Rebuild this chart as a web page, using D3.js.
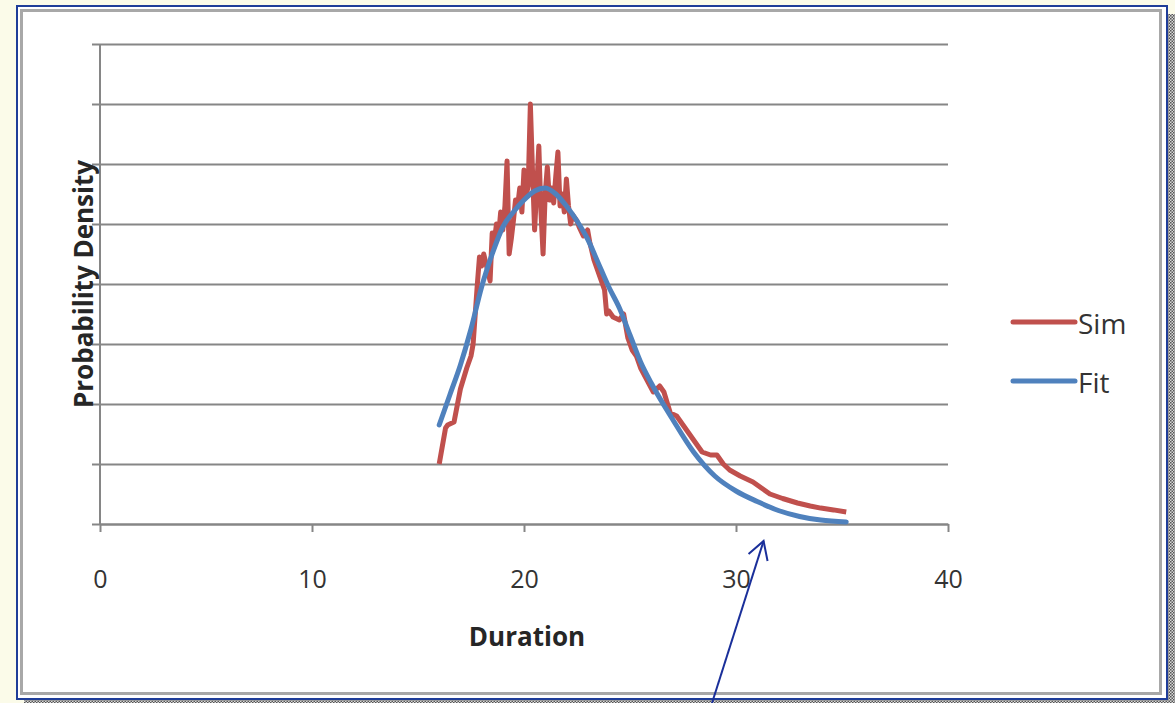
<!DOCTYPE html>
<html lang="en">
<head>
<meta charset="utf-8"/>
<style>
  body { margin: 0; background-color: #FBFBE9; }
  svg { display: block; }
  .tick text { font-family: "Open Sans", sans-serif; font-size: 25px; fill: #333; }
  .axis-title { font-family: "Open Sans", sans-serif; font-size: 26px; font-weight: bold; fill: #262626; }
  .legend text { font-family: "Open Sans", sans-serif; font-size: 28px; fill: #333; }
</style>
</head>
<body>
<svg id="container" width="1175" height="703"></svg>

<script src="https://d3js.org/d3.v7.min.js"></script>
<script>
  // simulated histogram (duration -> density)
  let simDuration = [16.0,16.3,16.4,16.7,17.0,17.3,17.5,17.6,17.7,17.8,17.9,18.0,18.1,18.3,18.4,18.5,18.6,18.7,18.8,18.9,
    19.0,19.1,19.2,19.3,19.4,19.5,19.6,19.7,19.8,19.9,20.0,20.1,20.2,20.3,20.4,20.5,20.6,20.7,20.8,20.9,
    21.0,21.1,21.2,21.3,21.4,21.5,21.6,21.7,21.8,21.9,22.0,22.1,22.2,22.3,22.5,22.6,22.8,23.0,23.1,23.3,
    23.5,23.6,23.8,23.9,24.0,24.2,24.5,24.7,24.9,25.1,25.3,25.5,25.8,26.1,26.4,26.6,26.9,27.2,27.5,27.8,
    28.1,28.4,28.8,29.1,29.4,29.7,30.2,30.8,31.2,31.6,32.2,32.9,33.5,34.0,34.6,35.2]
  let simDensity = [0.020,0.032,0.033,0.034,0.045,0.052,0.056,0.060,0.070,0.080,0.089,0.086,0.090,0.084,0.081,0.097,0.094,0.100,0.096,0.104,
    0.098,0.106,0.121,0.090,0.095,0.101,0.108,0.106,0.112,0.104,0.118,0.109,0.113,0.140,0.118,0.098,0.112,0.126,0.104,0.090,
    0.110,0.119,0.108,0.112,0.107,0.116,0.124,0.106,0.110,0.104,0.115,0.106,0.100,0.103,0.101,0.099,0.096,0.098,0.094,0.088,
    0.084,0.082,0.078,0.070,0.071,0.069,0.068,0.070,0.062,0.058,0.056,0.052,0.048,0.044,0.046,0.044,0.037,0.036,0.033,0.030,
    0.027,0.024,0.023,0.023,0.020,0.018,0.016,0.014,0.012,0.010,0.0085,0.007,0.006,0.0053,0.0047,0.004]

  // fitted curve
  let fitDuration = [16,16.5,17,17.5,18,18.5,19,19.5,20,20.5,21,21.5,22,22.5,23,23.5,24,24.5,25,25.5,26,27,28,29,30,31,32,33,34,35.2]
  let fitDensity = [0.033,0.043,0.053,0.065,0.079,0.090,0.099,0.104,0.108,0.111,0.112,0.110,0.106,0.101,0.095,0.087,0.079,0.072,0.063,0.054,
    0.047,0.035,0.024,0.016,0.011,0.0075,0.0045,0.0025,0.0013,0.0007]

  let xTicks = [0,10,20,30,40]
  let yTicks = [0,0.02,0.04,0.06,0.08,0.10,0.12,0.14,0.16]
  let seriesNames = ["Sim","Fit"]
  let seriesColors = ["#C0504D","#4F81BD"]

  let svg = d3.select("svg")

  // hatched strips on the right and bottom edges
  let defs = svg.append("defs")
  let pat = defs.append("pattern").attr("id","hatch").attr("width",3).attr("height",3)
    .attr("patternUnits","userSpaceOnUse")
  pat.append("rect").attr("width",3).attr("height",3).attr("fill","#d8d8d8")
  pat.append("rect").attr("width",1.5).attr("height",1.5).attr("fill","#555")
  pat.append("rect").attr("x",1.5).attr("y",1.5).attr("width",1.5).attr("height",1.5).attr("fill","#555")
  svg.append("rect").attr("x",1168).attr("y",14).attr("width",7).attr("height",689).attr("fill","url(#hatch)")
  svg.append("rect").attr("x",24).attr("y",700).attr("width",1151).attr("height",3).attr("fill","url(#hatch)")

  // frame
  svg.append("rect").attr("x",17).attr("y",6).attr("width",1150).attr("height",693)
    .attr("fill","#fff").attr("stroke","#1F3D99").attr("stroke-width",2)
  svg.append("rect").attr("x",21.5).attr("y",10.5).attr("width",1139).attr("height",683)
    .attr("fill","none").attr("stroke","#a8a8a8").attr("stroke-width",3)

  let plotLeft = 100, plotRight = 948, plotTop = 44, plotBottom = 524

  let xScale = d3.scaleLinear().domain([0,40]).range([plotLeft,plotRight])
  let yScale = d3.scaleLinear().domain([0,0.16]).range([plotBottom,plotTop])

  // horizontal gridlines + y ticks
  svg.append("g")
    .attr("transform","translate(" + plotLeft + ",0)")
    .call(d3.axisLeft(yScale).tickValues(yTicks).tickSize(-(plotRight-plotLeft)).tickSizeOuter(0).tickFormat(""))
    .call(g => g.select(".domain").remove())
    .call(g => g.selectAll(".tick line").attr("stroke","#868686").attr("stroke-width",2).attr("x1",-8))

  // y axis line
  svg.append("line").attr("x1",plotLeft).attr("x2",plotLeft).attr("y1",plotTop).attr("y2",plotBottom)
    .attr("stroke","#868686").attr("stroke-width",2)

  // x axis
  svg.append("g")
    .attr("transform","translate(0," + plotBottom + ")")
    .call(d3.axisBottom(xScale).tickValues(xTicks).tickSize(8).tickSizeOuter(0).tickPadding(38))
    .call(g => g.select(".domain").attr("stroke","#868686").attr("stroke-width",2))
    .call(g => g.selectAll(".tick line").attr("stroke","#868686").attr("stroke-width",2))

  svg.append("text").attr("class","axis-title").attr("x",527).attr("y",646)
    .attr("text-anchor","middle").text("Duration")
  svg.append("text").attr("class","axis-title")
    .attr("transform","translate(93,284) rotate(-90)")
    .attr("text-anchor","middle").text("Probability Density")

  let simData = simDuration.map((d,i) => ({x:d, y:simDensity[i]}))
  let fitData = fitDuration.map((d,i) => ({x:d, y:fitDensity[i]}))

  let simLine = d3.line().x(d => xScale(d.x)).y(d => yScale(d.y))
  let fitLine = d3.line().x(d => xScale(d.x)).y(d => yScale(d.y)).curve(d3.curveMonotoneX)

  svg.append("path").datum(simData).attr("d",simLine)
    .attr("fill","none").attr("stroke",seriesColors[0]).attr("stroke-width",5).attr("stroke-linejoin","round")
  svg.append("path").datum(fitData).attr("d",fitLine)
    .attr("fill","none").attr("stroke",seriesColors[1]).attr("stroke-width",5).attr("stroke-linecap","round")

  // legend
  let legend = svg.append("g").attr("class","legend")
  seriesNames.forEach((name,i) => {
    let y = 322 + i*59
    legend.append("line").attr("x1",1013).attr("x2",1075).attr("y1",y).attr("y2",y)
      .attr("stroke",seriesColors[i]).attr("stroke-width",5).attr("stroke-linecap","round")
    legend.append("text").attr("x",1078).attr("y",y+12).text(name)
  })

  // annotation arrow
  let tipX = xScale(31.3), tipY = plotBottom + 17
  svg.append("path")
    .attr("d","M" + 712 + "," + 703 + "L" + tipX + "," + tipY)
    .attr("stroke","#1a2f9a").attr("stroke-width",2).attr("fill","none")
  svg.append("path")
    .attr("d","M" + (tipX-15) + "," + (tipY+13) + "L" + tipX + "," + tipY + "L" + (tipX+4) + "," + (tipY+20))
    .attr("stroke","#1a2f9a").attr("stroke-width",2).attr("fill","none")
</script>
</body>
</html>
